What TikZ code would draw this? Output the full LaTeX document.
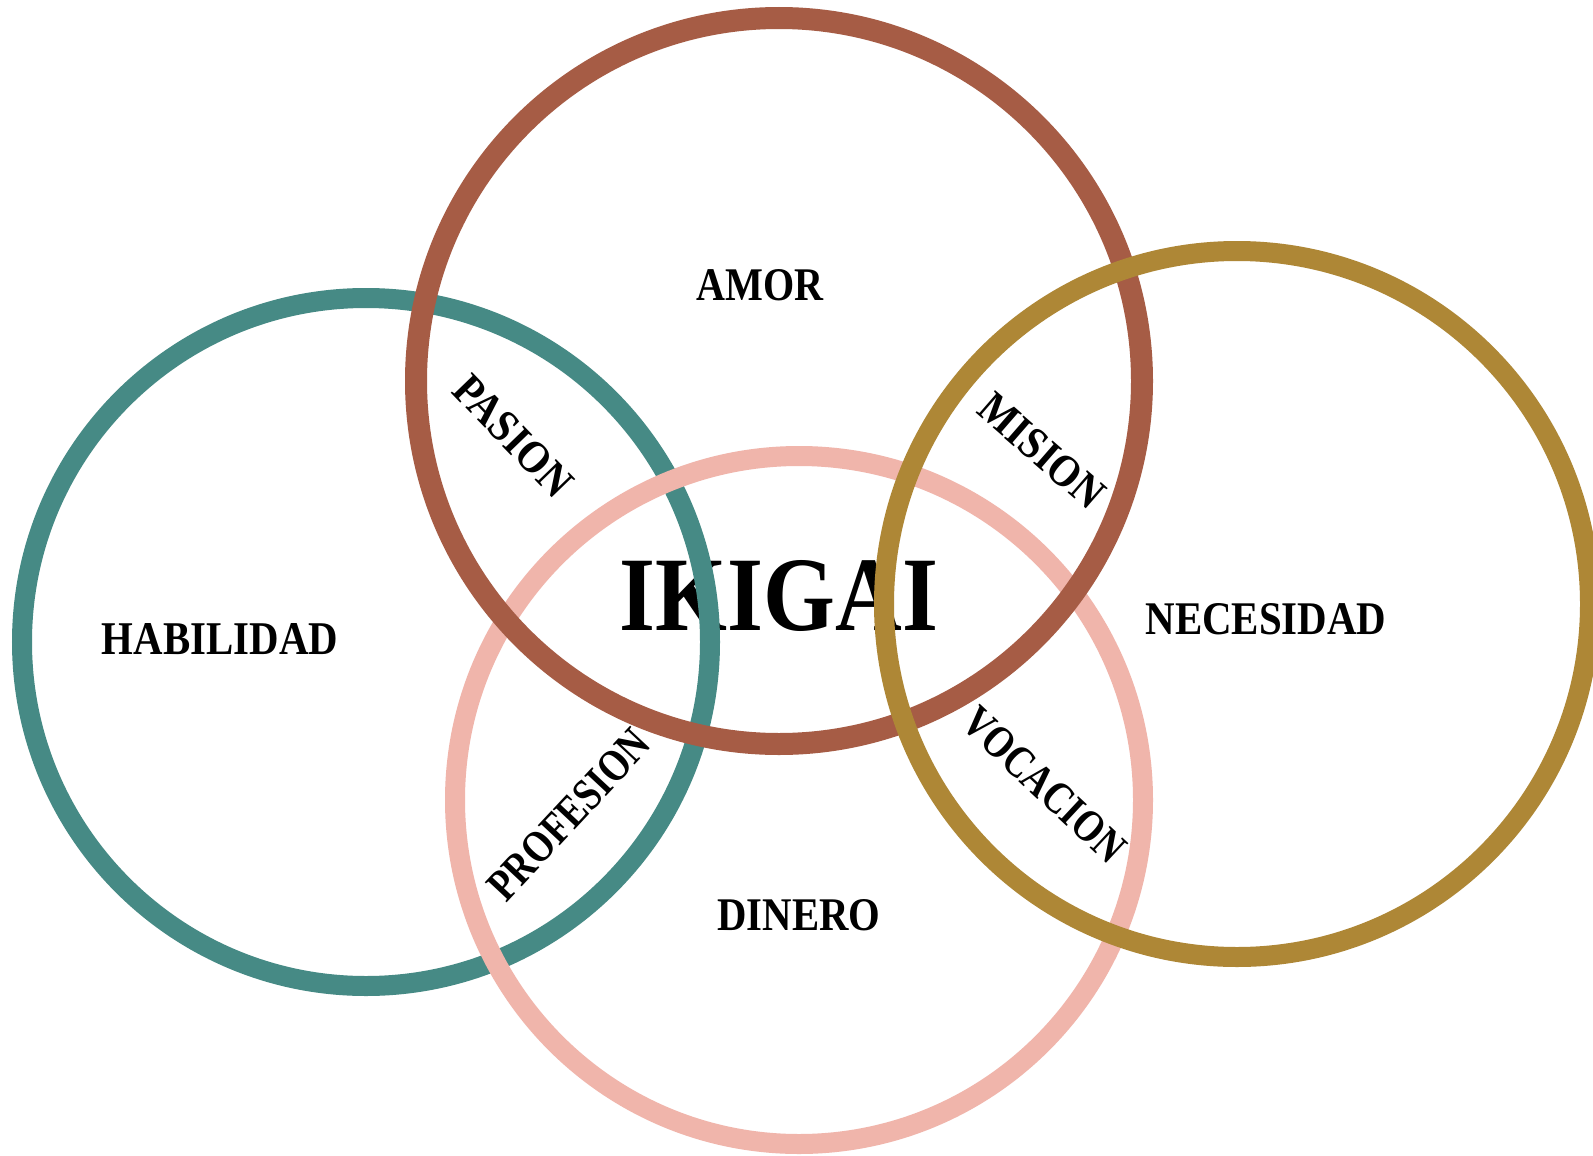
\documentclass[tikz,border=0pt]{standalone}
\usepackage{fontspec}
\setmainfont{Liberation Serif}
\usepackage{graphicx}
\begin{document}
\begin{tikzpicture}[x=1pt,y=-1pt,
  ring/.style={line width=20pt},
  lbl/.style={inner sep=0pt, text=black}]
\definecolor{tealc}{HTML}{468A85}
\definecolor{brownc}{HTML}{A65C45}
\definecolor{goldc}{HTML}{AE8736}
\definecolor{pinkc}{HTML}{F0B5AB}
\useasboundingbox[fill=white] (0,0) rectangle (1593,1156);
\begin{scope}
\clip (0,0) rectangle (1593,1156);
% labels
\node[lbl] (ikigai) at (779,596) {\resizebox{318pt}{70pt}{\bfseries IKIGAI}};
\node[lbl] (amor) at (760,285) {\resizebox{127pt}{31pt}{\bfseries AMOR}};
\node[lbl] (habilidad) at (220,639) {\resizebox{236pt}{31pt}{\bfseries HABILIDAD}};
\node[lbl] (necesidad) at (1266,619) {\resizebox{241pt}{31pt}{\bfseries NECESIDAD}};
\node[lbl] (dinero) at (799,915) {\resizebox{163pt}{31pt}{\bfseries DINERO}};
\node[lbl, rotate=-46] (pasion) at (513,436) {\resizebox{150pt}{30pt}{\bfseries PASION}};
\node[lbl, rotate=-41] (mision) at (1042,451) {\resizebox{150pt}{30pt}{\bfseries MISION}};
\node[lbl, rotate=47] (profesion) at (569,815) {\resizebox{215pt}{30pt}{\bfseries PROFESION}};
\node[lbl, rotate=-43] (vocacion) at (1044,785) {\resizebox{205pt}{30pt}{\bfseries VOCACION}};
% rings
\draw[ring, tealc] (366,642) circle (344);
\draw[ring, pinkc] (799,800) circle (344);
\draw[ring, brownc, line width=22pt] (779,381) circle (363);
\draw[ring, goldc] (1237,604) circle (353);
\end{scope}
\end{tikzpicture}
\end{document}
